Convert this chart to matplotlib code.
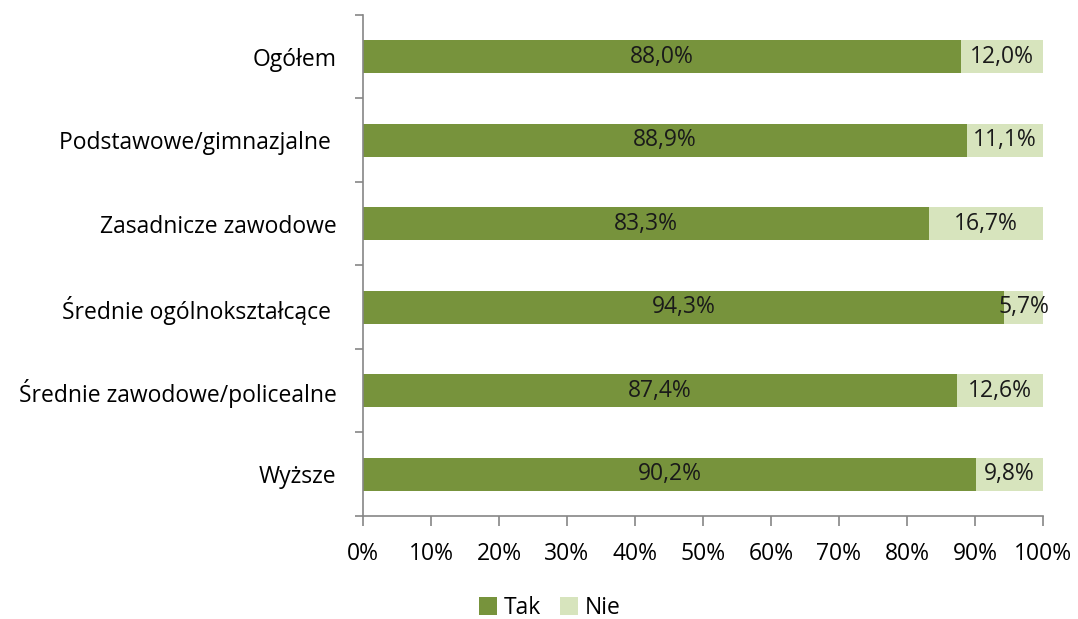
"""Stacked horizontal bar chart: Tak / Nie by education level."""

import matplotlib
matplotlib.use("Agg")
import matplotlib.pyplot as plt
import numpy as np
from matplotlib.ticker import FixedLocator

plt.rcParams["font.family"] = ["Open Sans", "DejaVu Sans"]

categories = [
    "Ogółem",
    "Podstawowe/gimnazjalne ",
    "Zasadnicze zawodowe",
    "Średnie ogólnokształcące ",
    "Średnie zawodowe/policealne",
    "Wyższe",
]
tak = [88.0, 88.9, 83.3, 94.3, 87.4, 90.2]
nie = [12.0, 11.1, 16.7, 5.7, 12.6, 9.8]

dark = "#77933C"
light = "#D7E4BD"
axis_col = "#868686"
fs = 16.5


def fmt(v):
    return f"{v:.1f}%".replace(".", ",")


fig = plt.figure(figsize=(10.78, 6.19), dpi=100)
ax = fig.add_axes([0.3367, 0.1664, 0.6308, 0.8094])

y = np.arange(len(categories))
b1 = ax.barh(y, tak, height=0.4, color=dark, label="Tak")
b2 = ax.barh(y, nie, left=tak, height=0.4, color=light, label="Nie")

for yi, t, n in zip(y, tak, nie):
    ax.text(t / 2, yi, fmt(t), ha="center", va="center", fontsize=fs, color="#1a1a1a")
    ax.text(t + n / 2, yi, fmt(n), ha="center", va="center", fontsize=fs, color="#1a1a1a")

ax.set_xlim(0, 100)
ax.set_ylim(len(categories) - 0.5, -0.5)
ax.set_xticks(np.arange(0, 101, 10))
ax.set_xticklabels([f"{v}%" for v in range(0, 101, 10)], fontsize=fs)
ax.set_yticks(y)
ax.set_yticklabels(categories, fontsize=fs)
ax.tick_params(axis="y", length=0, pad=19)
ax.yaxis.set_minor_locator(FixedLocator(np.arange(-0.5, len(categories), 1.0)))
ax.tick_params(axis="y", which="minor", length=6, color=axis_col, width=1.2)
ax.tick_params(axis="x", length=7, color=axis_col, width=1.2, pad=12)

for side in ["top", "right"]:
    ax.spines[side].set_visible(False)
for side in ["left", "bottom"]:
    ax.spines[side].set_color(axis_col)
    ax.spines[side].set_linewidth(1.2)

fig.legend(
    handles=[b1, b2],
    labels=["Tak", "Nie"],
    loc="center",
    bbox_to_anchor=(0.51, 0.018),
    ncol=2,
    frameon=False,
    fontsize=fs,
    handlelength=0.8,
    handleheight=0.8,
    handletextpad=0.3,
    columnspacing=0.8,
)

fig.savefig("out.png", dpi=100)
plt.close(fig)
